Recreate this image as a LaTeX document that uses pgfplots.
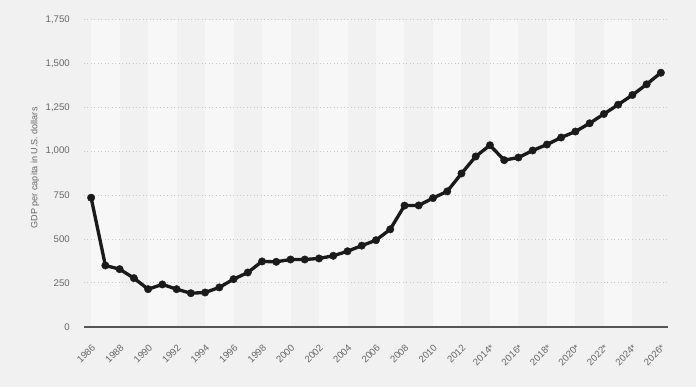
\documentclass[border=0pt]{standalone}
\usepackage{pgfplots}
\pgfplotsset{compat=1.18}
\usepackage{fontspec}
\setmainfont{Liberation Sans}
\definecolor{bg}{HTML}{F1F1F1}
\definecolor{band}{HTML}{F7F7F7}
\definecolor{gridc}{HTML}{C8C8C8}
\definecolor{labc}{HTML}{666666}
\definecolor{linec}{HTML}{1A1A1A}
\definecolor{axc}{HTML}{555555}
\begin{document}
\begin{tikzpicture}[x=0.75pt,y=0.75pt]
\fill[bg] (0,0) rectangle (696,387);
\begin{axis}[
  at={(63pt,45.2pt)}, anchor=south west,
  scale only axis, width=438pt, height=230.4pt,
  xmin=1985.5, xmax=2026.5, ymin=0, ymax=1750,
  axis line style={draw=none},
  xtick={1986,1988,...,2026},
  xticklabels={1986,1988,1990,1992,1994,1996,1998,2000,2002,2004,2006,2008,2010,2012,2014*,2016*,2018*,2020*,2022*,2024*,2026*},
  ytick={0,250,...,1750},
  major tick length=0pt,
  tick style={draw=none},
  /pgf/number format/.cd, 1000 sep={,}, assume math mode=true, /pgfplots/.cd,
  ticklabel style={font=\fontsize{7.2}{8}\selectfont, text=labc},
  yticklabel style={inner sep=0pt, xshift=-10.5pt},
  xticklabel style={rotate=45, anchor=north east, inner sep=0pt, yshift=-8.8pt, xshift=-8.8pt},
  ylabel={GDP per capita in U.S. dollars},
  every axis y label/.style={at={(axis description cs:0,0.517)}, xshift=-36.75pt, rotate=90, anchor=center, font=\fontsize{6.8}{8}\selectfont, text=labc},
  clip=false,
]
\fill[band] (axis cs:1986,0) rectangle (axis cs:1988,1750);
\fill[band] (axis cs:1990,0) rectangle (axis cs:1992,1750);
\fill[band] (axis cs:1994,0) rectangle (axis cs:1996,1750);
\fill[band] (axis cs:1998,0) rectangle (axis cs:2000,1750);
\fill[band] (axis cs:2002,0) rectangle (axis cs:2004,1750);
\fill[band] (axis cs:2006,0) rectangle (axis cs:2008,1750);
\fill[band] (axis cs:2010,0) rectangle (axis cs:2012,1750);
\fill[band] (axis cs:2014,0) rectangle (axis cs:2016,1750);
\fill[band] (axis cs:2018,0) rectangle (axis cs:2020,1750);
\fill[band] (axis cs:2022,0) rectangle (axis cs:2024,1750);
\draw[gridc, dotted, line width=0.6pt] (axis cs:1985.5,250) -- (axis cs:2026.5,250);
\draw[gridc, dotted, line width=0.6pt] (axis cs:1985.5,500) -- (axis cs:2026.5,500);
\draw[gridc, dotted, line width=0.6pt] (axis cs:1985.5,750) -- (axis cs:2026.5,750);
\draw[gridc, dotted, line width=0.6pt] (axis cs:1985.5,1000) -- (axis cs:2026.5,1000);
\draw[gridc, dotted, line width=0.6pt] (axis cs:1985.5,1250) -- (axis cs:2026.5,1250);
\draw[gridc, dotted, line width=0.6pt] (axis cs:1985.5,1500) -- (axis cs:2026.5,1500);
\draw[gridc, dotted, line width=0.6pt] (axis cs:1985.5,1750) -- (axis cs:2026.5,1750);
\draw[axc, line width=1.5pt] (axis cs:1985.5,0) -- (axis cs:2026.5,0);
\addplot[color=linec, line width=2.5pt, mark=*, mark size=2.8pt, mark options={solid, fill=linec, draw=linec, line width=0.3pt}] coordinates {
(1986,735) (1987,349) (1988,328) (1989,277) (1990,214) (1991,241) (1992,214) (1993,191) (1994,195) (1995,224) (1996,271) (1997,309) (1998,372) (1999,370) (2000,383) (2001,383) (2002,389) (2003,404) (2004,430) (2005,462) (2006,493) (2007,555) (2008,690) (2009,691) (2010,733) (2011,771) (2012,873) (2013,970) (2014,1034) (2015,949) (2016,964) (2017,1004) (2018,1038) (2019,1078) (2020,1112) (2021,1159) (2022,1212) (2023,1265) (2024,1320) (2025,1381) (2026,1447)
};
\end{axis}
\end{tikzpicture}
\end{document}
